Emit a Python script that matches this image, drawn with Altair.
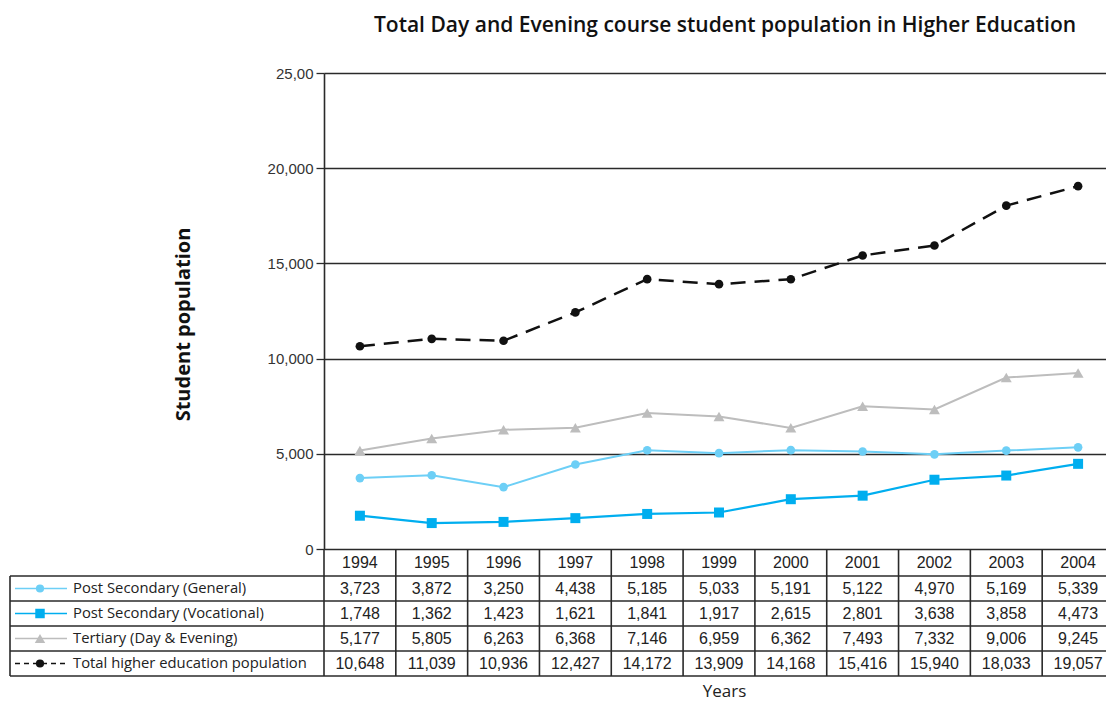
import altair as alt
import pandas as pd

# ---------------- data ----------------
years = [1994, 1995, 1996, 1997, 1998, 1999, 2000, 2001, 2002, 2003, 2004]
series_names = [
    "Post Secondary (General)",
    "Post Secondary (Vocational)",
    "Tertiary (Day & Evening)",
    "Total higher education population",
]
general = [3723, 3872, 3250, 4438, 5185, 5033, 5191, 5122, 4970, 5169, 5339]
vocational = [1748, 1362, 1423, 1621, 1841, 1917, 2615, 2801, 3638, 3858, 4473]
tertiary = [5177, 5805, 6263, 6368, 7146, 6959, 6362, 7493, 7332, 9006, 9245]
total = [10648, 11039, 10936, 12427, 14172, 13909, 14168, 15416, 15940, 18033, 19057]
series_values = [general, vocational, tertiary, total]
y_ticks = [0, 5000, 10000, 15000, 20000, 25000]

title_text = "Total Day and Evening course student population in Higher Education"
y_title = "Student population"
x_title = "Years"

# ---------------- styles / layout ----------------
COLORS = ["#6dcff6", "#00aeef", "#bdbdbd", "#111111"]
SHAPES = ["circle", "square", "triangle-up", "circle"]
SIZES = [75, 100, 120, 75]
LINE_W = [2, 2.2, 2, 2.5]
MAIN_DASH = [None, None, None, [15, 9]]
LEG_DASH = [None, None, None, [5, 4]]
GRID = "#2a2a2a"
FONT_NUM = "Liberation Sans Narrow, Liberation Sans, Arial"
FONT_TXT = "Open Sans"

PLOT_W_FULL = 790          # width of the 11 year columns
PLOT_W, PLOT_H = 782, 476  # visible plot area (right edge cut like the reference)
COL_PX = PLOT_W_FULL / len(years)
X0, X1 = years[0] - 0.5, years[-1] + 0.5
LABEL_COL_PX = 314
TABLE_LEFT = X0 - LABEL_COL_PX / COL_PX
ROW_PX, HEADER_PX = 25, 27
N_ROWS = len(series_names)
HEADER_TY = -HEADER_PX / ROW_PX  # top of header (= plot bottom)


def col_px(offset):
    """offset in px from table left edge -> x data units"""
    return TABLE_LEFT + offset / COL_PX


xs = alt.Scale(domain=[X0, X1], range=[0, PLOT_W_FULL], zero=False, nice=False)
ys = alt.Scale(domain=[0, 25000], zero=True, nice=False)
ts = alt.Scale(domain=[0, N_ROWS], range=[PLOT_H + HEADER_PX, PLOT_H + HEADER_PX + N_ROWS * ROW_PX])

layers = []

# ---------------- main lines ----------------
for i, (name, vals) in enumerate(zip(series_names, series_values)):
    df = pd.DataFrame({"year": years, "value": vals})
    first = i == 0
    x_axis = alt.Axis(labels=False, ticks=False, domain=False, grid=False, title=x_title,
                      titleFont=FONT_TXT, titleFontSize=17, titleFontWeight="normal",
                      titleColor="#222", titleX=400, titleY=134, titleBaseline="top",
                      titleAlign="center") if first else None
    y_axis = alt.Axis(values=y_ticks,
                      labelExpr="datum.value == 25000 ? '25,00' : format(datum.value, ',')",
                      grid=True, gridColor=GRID, gridWidth=1.3, domain=True, domainColor=GRID,
                      domainWidth=1.6, ticks=True, tickSize=8, tickColor=GRID, tickWidth=1.3,
                      labelFont="Liberation Sans", labelFontSize=15, labelColor="#333",
                      labelPadding=3, title=y_title, titleFont=FONT_TXT, titleFontSize=20,
                      titleFontWeight="bold", titleColor="#111", titleX=-141, titleY=251,
                      titleAngle=-90, titleAlign="center", titleBaseline="middle") if first else None
    lkw = dict(color=COLORS[i], strokeWidth=LINE_W[i])
    if MAIN_DASH[i]:
        lkw["strokeDash"] = MAIN_DASH[i]
    line = alt.Chart(df).mark_line(**lkw).encode(
        x=alt.X("year:Q", scale=xs, axis=x_axis),
        y=alt.Y("value:Q", scale=ys, axis=y_axis),
    )
    pts = alt.Chart(df).mark_point(filled=True, opacity=1, shape=SHAPES[i], size=SIZES[i],
                                   color=COLORS[i]).encode(
        x=alt.X("year:Q", scale=xs, axis=None),
        y=alt.Y("value:Q", scale=ys, axis=None),
    )
    layers += [line, pts]

# ---------------- table: grid ----------------
vr = pd.DataFrame({
    "x": [X0] + [y + 0.5 for y in years[:-1]] + [TABLE_LEFT],
    "t0": [HEADER_TY] * len(years) + [0],
    "t1": [N_ROWS] * (len(years) + 1),
})
vrules = alt.Chart(vr).mark_rule(color=GRID, strokeWidth=1.6).encode(
    x=alt.X("x:Q", scale=xs, axis=None),
    y=alt.Y("t0:Q", scale=ts, axis=None),
    y2="t1:Q",
)
hr = pd.DataFrame({"t": list(range(0, N_ROWS + 1)), "x0": TABLE_LEFT, "x1": X1})
hrules = alt.Chart(hr).mark_rule(color=GRID, strokeWidth=1.6).encode(
    x=alt.X("x0:Q", scale=xs, axis=None),
    x2="x1:Q",
    y=alt.Y("t:Q", scale=ts, axis=None),
)
layers += [vrules, hrules]

# ---------------- table: header years ----------------
hdr = pd.DataFrame({"year": years, "t": HEADER_TY / 2, "label": [str(y) for y in years]})
layers.append(alt.Chart(hdr).mark_text(font=FONT_NUM, fontSize=16, color="#222",
                                       baseline="middle", align="center").encode(
    x=alt.X("year:Q", scale=xs, axis=None),
    y=alt.Y("t:Q", scale=ts, axis=None),
    text="label:N",
))

# ---------------- table: values ----------------
rows = []
for i, vals in enumerate(series_values):
    for y, v in zip(years, vals):
        rows.append({"year": y, "t": i + 0.5, "label": f"{v:,}"})
layers.append(alt.Chart(pd.DataFrame(rows)).mark_text(font=FONT_NUM, fontSize=16, color="#222",
                                                      baseline="middle", align="center").encode(
    x=alt.X("year:Q", scale=xs, axis=None),
    y=alt.Y("t:Q", scale=ts, axis=None),
    text="label:N",
))

# ---------------- table: legend column ----------------
for i, name in enumerate(series_names):
    seg = pd.DataFrame({"x": [col_px(5), col_px(57)], "t": [i + 0.5, i + 0.5]})
    lkw = dict(color=COLORS[i], strokeWidth=1.5 if i < 3 else 1.6)
    if LEG_DASH[i]:
        lkw["strokeDash"] = LEG_DASH[i]
    layers.append(alt.Chart(seg).mark_line(**lkw).encode(
        x=alt.X("x:Q", scale=xs, axis=None),
        y=alt.Y("t:Q", scale=ts, axis=None),
    ))
    mk = pd.DataFrame({"x": [col_px(30)], "t": [i + 0.5]})
    layers.append(alt.Chart(mk).mark_point(filled=True, opacity=1, shape=SHAPES[i],
                                           size=SIZES[i] * 0.9, color=COLORS[i]).encode(
        x=alt.X("x:Q", scale=xs, axis=None),
        y=alt.Y("t:Q", scale=ts, axis=None),
    ))
lab = pd.DataFrame({"x": col_px(63), "t": [i + 0.5 for i in range(N_ROWS)], "label": series_names})
layers.append(alt.Chart(lab).mark_text(font=FONT_TXT, fontSize=14.8, color="#222",
                                       baseline="middle", align="left").encode(
    x=alt.X("x:Q", scale=xs, axis=None),
    y=alt.Y("t:Q", scale=ts, axis=None),
    text="label:N",
))

chart = alt.layer(*layers).resolve_scale(x="independent", y="independent").properties(
    width=PLOT_W,
    height=PLOT_H,
    title=alt.TitleParams(title_text, font=FONT_TXT, fontSize=21, fontWeight=600,
                          color="#111", anchor="middle", offset=30, dx=10),
    autosize=alt.AutoSizeParams(type="none"),
    padding={"left": 316, "top": 65, "right": 0, "bottom": 154},
).configure_view(stroke=None).configure(background="white")

chart.save("out.html", embed_options={"renderer": "svg", "actions": False})
